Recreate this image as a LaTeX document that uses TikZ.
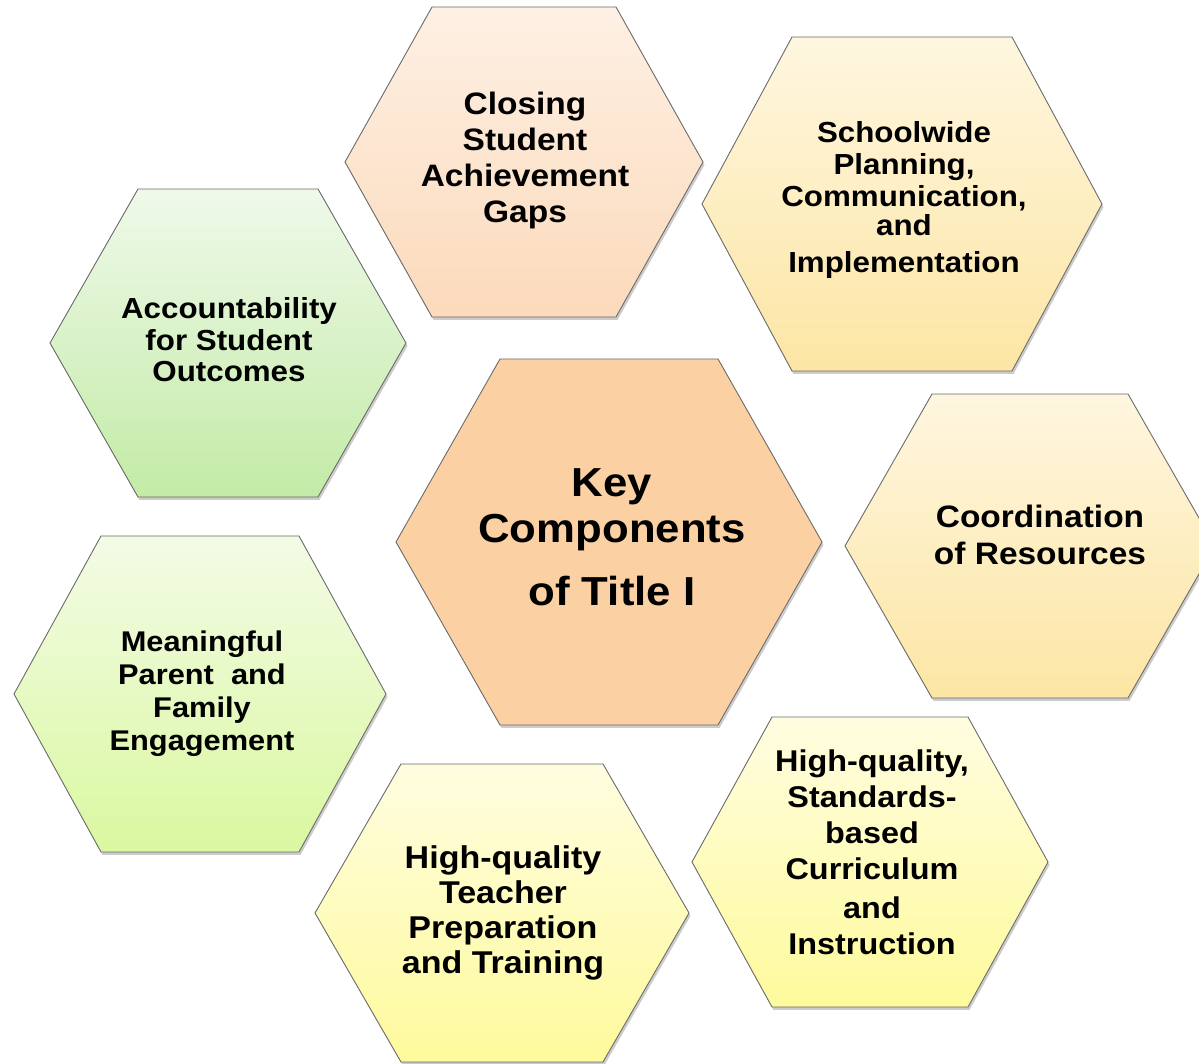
\documentclass[tikz,border=0pt]{standalone}
\usepackage{fontspec}
\setmainfont{Liberation Sans}[FakeStretch=1.08]
\usetikzlibrary{shadows}
\definecolor{peachtop}{HTML}{FDF0E4}
\definecolor{peachbot}{HTML}{FCDABB}
\definecolor{keyfill}{HTML}{FBD1A4}
\definecolor{goldtop}{HTML}{FEF6E0}
\definecolor{goldbot}{HTML}{FDE6A4}
\definecolor{greentop}{HTML}{EFF9EA}
\definecolor{greenbot}{HTML}{C3EBA6}
\definecolor{limetop}{HTML}{F3FBE6}
\definecolor{limebot}{HTML}{DAF8A0}
\definecolor{yeltop}{HTML}{FFFDE0}
\definecolor{yelbot}{HTML}{FEFA9C}
\tikzstyle{cell} = [draw=black!58, line width=0.9pt,
  drop shadow={shadow xshift=1.5pt, shadow yshift=-3pt, opacity=0.4}]
\tikzstyle{peach} = [top color=peachtop, bottom color=peachbot]
\tikzstyle{gold} = [top color=goldtop, bottom color=goldbot]
\tikzstyle{green} = [top color=greentop, bottom color=greenbot]
\tikzstyle{lime} = [top color=limetop, bottom color=limebot]
\tikzstyle{yel} = [top color=yeltop, bottom color=yelbot]
\tikzset{caption/.style 2 args={align=center, inner sep=0pt,
  font=\fontsize{#1}{#2}\selectfont\bfseries}}
\newcommand{\hexcell}[5][]{ %
  % Hexagon at #2: half width #3, half height #4, half top side #5.
  \path[cell,#1,shift={(#2)}] (-#3,0) -- (-#5,#4) -- (#5,#4) -- (#3,0)
    -- (#5,-#4) -- (-#5,-#4) -- cycle ;%
}

\begin{document}
\begin{tikzpicture}[x=1pt, y=1pt]
  \useasboundingbox (0,0) rectangle (1199,1064);
  \clip (0,0) rectangle (1199,1064);

  \hexcell[peach] {524,902} {179} {155} {92}
  \hexcell[gold] {902,860} {200} {167} {110}
  \hexcell[green] {228,721} {178} {154} {90}
  \hexcell[fill=keyfill] {609,522} {213} {183} {109}
  \hexcell[gold] {1030,518} {185} {152} {98}
  \hexcell[yel] {870,202} {178} {145} {98}
  \hexcell[yel] {502,151} {187} {149} {101}
  \hexcell[lime] {200,370} {186} {158} {99}

  \node[caption={31}{36}] (gaps) at (525,903) {Closing\\Student\\Achievement\\Gaps};
  \node[caption={29}{32}] (plan) at (904,864)
    {Schoolwide\\Planning,\\Communication,\\[-3pt]and\\[5pt]Implementation};
  \node[caption={29}{31.5}] (acct) at (229,724) {Accountability\\for Student\\Outcomes};
  \node[caption={40.5}{46}] (key) at (612,527) {Key\\Components\\[17pt]of Title I};
  \node[caption={31}{37}] (res) at (1040,529) {Coordination\\of Resources};
  \node[caption={30}{36}] (curr) at (872,212)
    {High-quality,\\Standards-\\based\\Curriculum\\[3pt]and\\Instruction};
  \node[caption={31.5}{35}] (teach) at (503,151)
    {High-quality\\Teacher\\Preparation\\and Training};
  \node[caption={28.5}{33}] (family) at (202,370)
    {Meaningful\\Parent\ \ and\\Family\\Engagement};
\end{tikzpicture}
\end{document}
